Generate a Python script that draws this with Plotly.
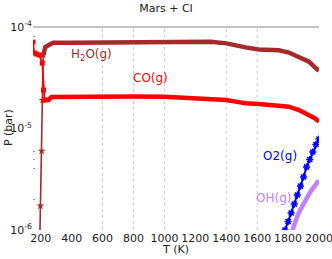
import plotly.graph_objects as go

# ---- data ----
T_h2o = [194, 198, 206, 212, 216, 230, 250, 280, 400, 600, 800, 1000, 1200, 1300,
         1400, 1460, 1525, 1610, 1740, 1805, 1870, 1935, 1970, 2000]
P_h2o = [7.9e-7, 1.73e-6, 6.0e-6, 1.9e-5, 5.3e-5, 6.35e-5, 6.6e-5, 7.0e-5, 7.0e-5,
         7.05e-5, 7.1e-5, 7.2e-5, 7.2e-5, 7.15e-5, 6.9e-5, 6.55e-5, 6.3e-5, 6.0e-5,
         5.9e-5, 5.6e-5, 5.1e-5, 4.55e-5, 4.05e-5, 3.7e-5]

T_co = [150, 158, 172, 190, 210, 218, 225, 250, 270, 400, 600, 800, 1000, 1235,
        1400, 1460, 1525, 1610, 1740, 1805, 1870, 1935, 1970, 2000]
P_co = [7.1e-5, 5.55e-5, 5.42e-5, 5.3e-5, 4.41e-5, 2.39e-5, 1.91e-5, 1.91e-5, 2.04e-5,
        2.06e-5, 2.06e-5, 2.07e-5, 2.06e-5, 1.99e-5, 1.91e-5, 1.84e-5, 1.77e-5,
        1.74e-5, 1.7e-5, 1.64e-5, 1.52e-5, 1.36e-5, 1.27e-5, 1.17e-5]

T_o2 = [1770, 1780, 1800, 1820, 1840, 1860, 1880, 1900, 1920, 1940, 1960, 1980, 2000]
P_o2 = [8.7e-7, 1.0e-6, 1.21e-6, 1.47e-6, 1.80e-6, 2.21e-6, 2.71e-6, 3.33e-6,
        4.18e-6, 4.95e-6, 5.87e-6, 6.95e-6, 7.88e-6]

T_oh = [1820, 1840, 1860, 1880, 1900, 1920, 1940, 1960, 1980, 2000]
P_oh = [9.1e-7, 1.15e-6, 1.37e-6, 1.59e-6, 1.82e-6, 2.07e-6, 2.32e-6, 2.57e-6,
        2.81e-6, 3.08e-6]

x_ticks = [200, 400, 600, 800, 1000, 1200, 1400, 1600, 1800, 2000]
grid_T = [600, 800, 1000, 1400, 1600]
y_ticks = [1e-6, 1e-5, 1e-4]
y_ticktext = ["10<sup>-6</sup>", "10<sup>-5</sup>", "10<sup>-4</sup>"]
y_minor = [2e-6, 4e-6, 5e-6, 6e-6, 8e-5]

labels = {"h2o": "H<sub>2</sub>O(g)", "co": "CO(g)", "o2": "O2(g)", "oh": "OH(g)"}

BROWN = "#a52a2a"
RED = "#ff0000"
BLUE = "#0000ff"
VIOLET = "#c080ff"
FONT = "DejaVu Sans"


def split(T, P, t_thick):
    thin = [(t, p) for t, p in zip(T, P) if t <= t_thick]
    thick = [(t, p) for t, p in zip(T, P) if t >= t_thick]
    return [a for a, _ in thin], [b for _, b in thin], [a for a, _ in thick], [b for _, b in thick]


fig = go.Figure()

# H2O
a, b, c, d = split(T_h2o, P_h2o, 216)
fig.add_trace(go.Scatter(x=a, y=b, mode="lines+markers",
                         line=dict(color=BROWN, width=1.6),
                         marker=dict(symbol="star", size=6, color=BROWN)))
fig.add_trace(go.Scatter(x=c, y=d, mode="lines", line=dict(color=BROWN, width=4.5)))

# CO
a, b, c, d = split(T_co, P_co, 225)
fig.add_trace(go.Scatter(x=a, y=b, mode="lines+markers",
                         line=dict(color=RED, width=1.8),
                         marker=dict(symbol="square", size=5, color=RED)))
fig.add_trace(go.Scatter(x=c, y=d, mode="lines", line=dict(color=RED, width=4.5)))

# OH
fig.add_trace(go.Scatter(x=T_oh, y=P_oh, mode="lines", line=dict(color=VIOLET, width=4.5)))

# O2
fig.add_trace(go.Scatter(x=T_o2, y=P_o2, mode="lines+markers",
                         line=dict(color=BLUE, width=2),
                         marker=dict(symbol="asterisk-open", size=6,
                                     line=dict(color=BLUE, width=1.5))))

shapes = [dict(type="line", xref="x", yref="paper", x0=t, x1=t, y0=0, y1=1,
               line=dict(color="#cccccc", width=1, dash="dot"), layer="below")
          for t in grid_T]
shapes.append(dict(type="line", xref="paper", yref="paper", x0=0, x1=1, y0=1, y1=1,
                   line=dict(color="#888888", width=1)))

annotations = [
    dict(text=labels["h2o"], x=0.203, y=0.862, font=dict(color=BROWN, size=12)),
    dict(text=labels["co"], x=0.411, y=0.749, font=dict(color=RED, size=12)),
    dict(text=labels["o2"], x=0.862, y=0.365, font=dict(color=BLUE, size=12)),
    dict(text=labels["oh"], x=0.841, y=0.158, font=dict(color=VIOLET, size=12)),
    dict(text="T (K)", x=0.497, y=-0.0985, font=dict(color="#222", size=11)),
    dict(text="P (bar)", x=-0.0874, y=0.502, textangle=-90, font=dict(color="#222", size=11)),
]
for an in annotations:
    an.update(xref="paper", yref="paper", showarrow=False, xanchor="center", yanchor="middle")

fig.update_layout(
    width=332, height=259,
    margin=dict(l=33, r=13, t=27, b=29, autoexpand=False),
    paper_bgcolor="white", plot_bgcolor="white",
    showlegend=False,
    font=dict(family=FONT, size=11, color="#222"),
    title=dict(text="Mars + CI", x=0.5, xref="container", y=1 - 8 / 259,
               yref="container", xanchor="center", yanchor="middle",
               font=dict(size=11, color="#222")),
    shapes=shapes,
    annotations=annotations,
)
fig.update_xaxes(range=[150, 2000], tickvals=x_ticks, showgrid=False, zeroline=False,
                 showline=False, ticks="", tickangle=0, automargin=False,
                 ticklabeloverflow="allow",
                 tickfont=dict(size=11, color="#222"))
fig.update_yaxes(type="log", range=[-6, -4], tickvals=y_ticks, ticktext=y_ticktext,
                 showgrid=False, zeroline=False, showline=False, ticks="", automargin=False,
                 ticklabeloverflow="allow",
                 tickfont=dict(size=11, color="#222"),
                 minor=dict(tickvals=y_minor, ticks="inside", ticklen=2,
                            tickcolor="#999", tickwidth=1),
                 mirror="ticks")

fig.write_html("out.html", config={"displayModeBar": False},
               post_script="document.body.style.margin='0';document.body.style.padding='0';")
